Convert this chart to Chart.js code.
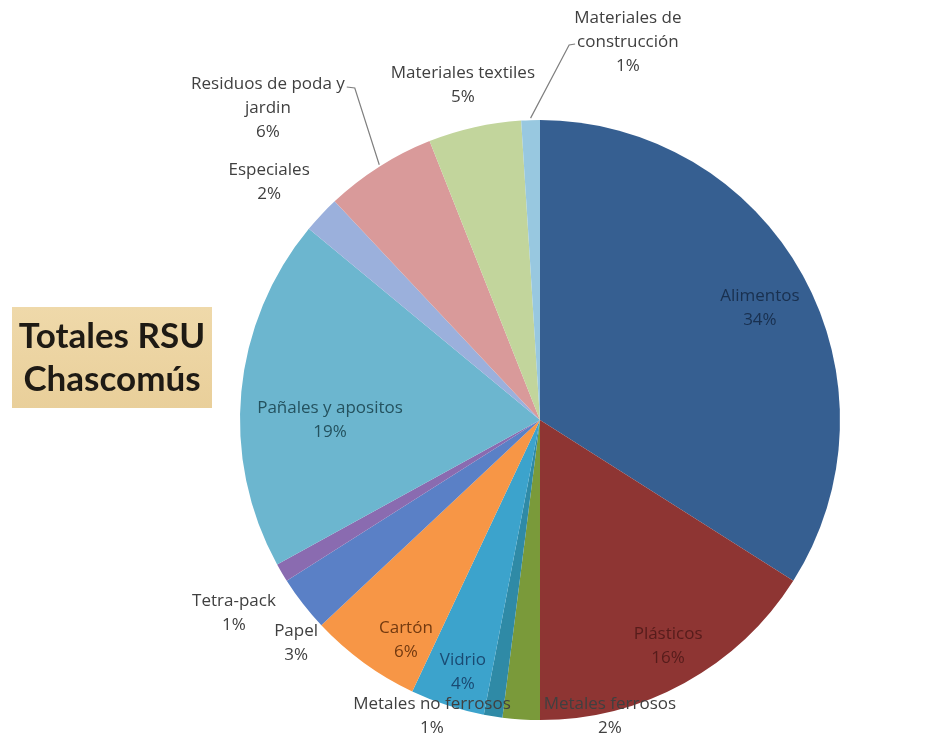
<!DOCTYPE html>
<html>
<head>
<meta charset="utf-8">
<script src="https://cdn.jsdelivr.net/npm/chart.js@4/dist/chart.umd.min.js"></script>
<style>
  html, body { margin: 0; padding: 0; background: #fff; }
  #wrap { width: 925px; height: 733px; }
</style>
</head>
<body>
<div id="wrap"><canvas id="pie" width="925" height="733"></canvas></div>
<script>
// datos (porcentajes)
const categorias = ['Alimentos', 'Plásticos', 'Metales ferrosos', 'Metales no ferrosos', 'Vidrio',
  'Cartón', 'Papel', 'Tetra-pack', 'Pañales y apositos', 'Especiales',
  'Residuos de poda y jardin', 'Materiales textiles', 'Materiales de construcción'];
const valores = [34, 16, 2, 1, 4, 6, 3, 1, 19, 2, 6, 5, 1];
// como se parte cada etiqueta en lineas
const lineasEtiqueta = [
  ['Alimentos'], ['Plásticos'], ['Metales ferrosos'], ['Metales no ferrosos'], ['Vidrio'],
  ['Cartón'], ['Papel'], ['Tetra-pack'], ['Pañales y apositos'], ['Especiales'],
  ['Residuos de poda y', 'jardin'], ['Materiales textiles'], ['Materiales de', 'construcción']
];

const colores = ['#365f91', '#8e3533', '#7a9a3a', '#2f8aa6', '#3ca3cc', '#f79646', '#5a80c6',
  '#8a6bb0', '#6cb6cf', '#9bb0dc', '#d99a9a', '#c2d59c', '#98c8e0'];
const colorTexto = ['#19304f', '#561c1b', '#404040', '#404040', '#1a4a72', '#733a10', '#404040',
  '#404040', '#24525f', '#404040', '#404040', '#404040', '#404040'];
// posicion de cada etiqueta respecto al centro, en unidades de radio
const posEtiqueta = [[0.733, -0.373], [0.427, 0.753], [0.233, 0.987], [-0.36, 0.987], [-0.257, 0.84],
  [-0.447, 0.733], [-0.813, 0.743], [-1.02, 0.643], [-0.70, 0.0], [-0.903, -0.793],
  [-0.907, -1.04], [-0.257, -1.117], [0.293, -1.26]];

const fuente = '17px "Open Sans"';

const etiquetasPlugin = {
  id: 'etiquetas',
  afterDatasetsDraw(chart) {
    const ctx = chart.ctx;
    const meta = chart.getDatasetMeta(0);
    const arc0 = meta.data[0];
    const cx = arc0.x, cy = arc0.y, r = arc0.outerRadius;
    const total = valores.reduce((a, b) => a + b, 0);
    ctx.save();
    ctx.font = fuente;
    ctx.textAlign = 'center';
    ctx.textBaseline = 'middle';
    const lh = 24;
    valores.forEach((v, i) => {
      const lines = lineasEtiqueta[i].concat([Math.round(v / total * 100) + '%']);
      const x = cx + posEtiqueta[i][0] * r;
      const y0 = cy + posEtiqueta[i][1] * r - (lines.length - 1) * lh / 2;
      ctx.fillStyle = colorTexto[i];
      lines.forEach((t, k) => ctx.fillText(t, x, y0 + k * lh));
    });

    // lineas guia para las etiquetas de afuera
    ctx.strokeStyle = '#7f7f7f';
    ctx.lineWidth = 1.2;
    [10, 12].forEach(i => {
      const a = meta.data[i];
      const mid = (a.startAngle + a.endAngle) / 2;
      const ex = cx + Math.cos(mid) * r, ey = cy + Math.sin(mid) * r;
      const lx = cx + posEtiqueta[i][0] * r;
      const ly = cy + posEtiqueta[i][1] * r - (lineasEtiqueta[i].length) * lh / 2;
      const w = ctx.measureText(lineasEtiqueta[i][i === 10 ? 0 : 1]).width;
      ctx.beginPath();
      if (i === 10) {
        ctx.moveTo(lx + w / 2 + 2, ly + 3);
        ctx.lineTo(lx + w / 2 + 10, ly + 4);
      } else {
        ctx.moveTo(lx - w / 2 - 2, ly + lh + 2);
        ctx.lineTo(lx - w / 2 - 8, ly + lh + 3);
      }
      ctx.lineTo(ex, ey - 2);
      ctx.stroke();
    });

    // recuadro del titulo
    const bx = 12, by = 307, bw = 200, bh = 101;
    const g = ctx.createLinearGradient(bx, by, bx, by + bh);
    g.addColorStop(0, '#efd9aa');
    g.addColorStop(1, '#e9cf9a');
    ctx.fillStyle = g;
    ctx.fillRect(bx, by, bw, bh);
    ctx.fillStyle = '#1e1a14';
    ctx.font = 'bold 35px Lato';
    ctx.fillText('Totales RSU', bx + bw / 2, by + 30);
    ctx.fillText('Chascomús', bx + bw / 2, by + 73);
    ctx.restore();
  }
};

window.onload = function() {
  const data = {
    labels: categorias,
    datasets: [{
      data: valores,
      backgroundColor: colores,
      borderWidth: 0
    }]
  };
  const config = {
    type: 'pie',
    data: data,
    options: {
      responsive: false,
      animation: false,
      layout: { padding: { top: 120, bottom: 13, left: 240, right: 85 } },
      plugins: {
        legend: { display: false },
        tooltip: { enabled: false }
      }
    },
    plugins: [etiquetasPlugin]
  };
  new Chart(document.getElementById('pie'), config);
};
</script>
</body>
</html>
